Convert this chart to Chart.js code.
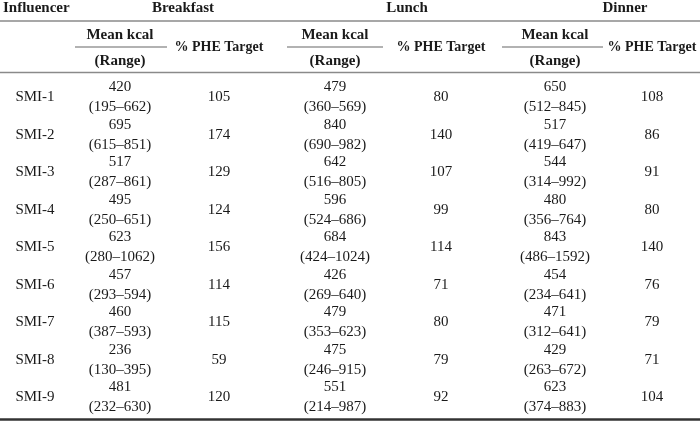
<html>
<head>
    <script src="https://cdn.jsdelivr.net/npm/chart.js@4.4.1/dist/chart.umd.min.js"></script>
    <style>
        body {
            margin: 0;
            background: #fff;
        }
    </style>
</head>
<body>
    <canvas id="canvas" width="700" height="424"></canvas>
    <script>
        // table values
        var influencers = ['SMI-1', 'SMI-2', 'SMI-3', 'SMI-4', 'SMI-5', 'SMI-6', 'SMI-7', 'SMI-8', 'SMI-9'];
        var meals = ['Breakfast', 'Lunch', 'Dinner'];

        var breakfastMean = [420, 695, 517, 495, 623, 457, 460, 236, 481];
        var breakfastMin = [195, 615, 287, 250, 280, 293, 387, 130, 232];
        var breakfastMax = [662, 851, 861, 651, 1062, 594, 593, 395, 630];
        var breakfastPhe = [105, 174, 129, 124, 156, 114, 115, 59, 120];

        var lunchMean = [479, 840, 642, 596, 684, 426, 479, 475, 551];
        var lunchMin = [360, 690, 516, 524, 424, 269, 353, 246, 214];
        var lunchMax = [569, 982, 805, 686, 1024, 640, 623, 915, 987];
        var lunchPhe = [80, 140, 107, 99, 114, 71, 80, 79, 92];

        var dinnerMean = [650, 517, 544, 480, 843, 454, 471, 429, 623];
        var dinnerMin = [512, 419, 314, 356, 486, 234, 312, 263, 374];
        var dinnerMax = [845, 647, 992, 764, 1592, 641, 641, 672, 883];
        var dinnerPhe = [108, 86, 91, 80, 140, 76, 79, 71, 104];

        // layout (canvas units)
        var rowY = function(i) { return 97.5 + i * 37.5; };
        var meanX = [120, 335, 555];
        var pheX = [219, 441, 652];
        var mealX = [183, 407, 625];
        var underline = [[75, 167], [287, 383], [502, 603]];
        var labelX = 35;

        var bodyFont = '15px "Liberation Serif", serif';
        var boldFont = 'bold 15px "Liberation Serif", serif';
        var pheFont = 'bold 14px "Liberation Serif", serif';

        function textSet(points, texts, font, align) {
            return {
                type: 'scatter',
                data: points,
                cellText: texts,
                cellFont: font,
                cellAlign: align || 'center',
                pointRadius: 0,
                pointHoverRadius: 0
            };
        }

        function rule(x1, x2, y, color, width) {
            return {
                type: 'line',
                data: [{ x: x1, y: y }, { x: x2, y: y }],
                borderColor: color,
                borderWidth: width,
                pointRadius: 0,
                fill: false
            };
        }

        var datasets = [];

        // rules
        datasets.push(rule(0, 700, 21, '#8a8a8a', 1.6));
        datasets.push(rule(0, 700, 72.5, '#8a8a8a', 1.6));
        datasets.push(rule(0, 700, 419.5, '#333', 2.4));
        underline.forEach(function(u) {
            datasets.push(rule(u[0], u[1], 47, '#666', 1.2));
        });

        // header
        datasets.push(textSet([{ x: 3, y: 8 }], [['Influencer']], boldFont, 'left'));
        datasets.push(textSet(mealX.map(function(x) { return { x: x, y: 8 }; }),
            meals.map(function(m) { return [m]; }), boldFont));
        datasets.push(textSet(meanX.map(function(x) { return { x: x, y: 35 }; }),
            meanX.map(function() { return ['Mean kcal']; }), boldFont));
        datasets.push(textSet(meanX.map(function(x) { return { x: x, y: 61 }; }),
            meanX.map(function() { return ['(Range)']; }), boldFont));
        datasets.push(textSet(pheX.map(function(x) { return { x: x, y: 47 }; }),
            pheX.map(function() { return ['% PHE Target']; }), pheFont));

        // body
        datasets.push(textSet(influencers.map(function(s, i) { return { x: labelX, y: rowY(i) }; }),
            influencers.map(function(s) { return [s]; }), bodyFont));

        var groups = [
            [breakfastMean, breakfastMin, breakfastMax, breakfastPhe],
            [lunchMean, lunchMin, lunchMax, lunchPhe],
            [dinnerMean, dinnerMin, dinnerMax, dinnerPhe]
        ];
        groups.forEach(function(g, k) {
            datasets.push(textSet(g[0].map(function(v, i) { return { x: meanX[k], y: rowY(i) }; }),
                g[0].map(function(v, i) { return [String(v), '(' + g[1][i] + '\u2013' + g[2][i] + ')']; }), bodyFont));
            datasets.push(textSet(g[3].map(function(v, i) { return { x: pheX[k], y: rowY(i) }; }),
                g[3].map(function(v) { return [String(v)]; }), bodyFont));
        });

        var cellTextPlugin = {
            id: 'cellText',
            afterDatasetsDraw: function(chart) {
                var ctx = chart.ctx;
                chart.data.datasets.forEach(function(ds, i) {
                    if (!ds.cellText) return;
                    var meta = chart.getDatasetMeta(i);
                    ctx.save();
                    ctx.font = ds.cellFont;
                    ctx.fillStyle = '#1a1a1a';
                    ctx.textAlign = ds.cellAlign;
                    ctx.textBaseline = 'middle';
                    meta.data.forEach(function(pt, j) {
                        var lines = ds.cellText[j];
                        var lh = 20;
                        var top = pt.y - (lines.length - 1) * lh / 2;
                        lines.forEach(function(t, n) {
                            ctx.fillText(t, pt.x, top + n * lh);
                        });
                    });
                    ctx.restore();
                });
            }
        };

        var chart = new Chart(document.getElementById('canvas').getContext('2d'), {
            type: 'scatter',
            data: { datasets: datasets },
            options: {
                responsive: false,
                animation: false,
                events: [],
                layout: { padding: 0 },
                plugins: {
                    legend: { display: false },
                    tooltip: { enabled: false }
                },
                scales: {
                    x: { type: 'linear', min: 0, max: 700, display: false },
                    y: { type: 'linear', min: 0, max: 424, reverse: true, display: false }
                }
            },
            plugins: [cellTextPlugin]
        });
    </script>
</body>
</html>
